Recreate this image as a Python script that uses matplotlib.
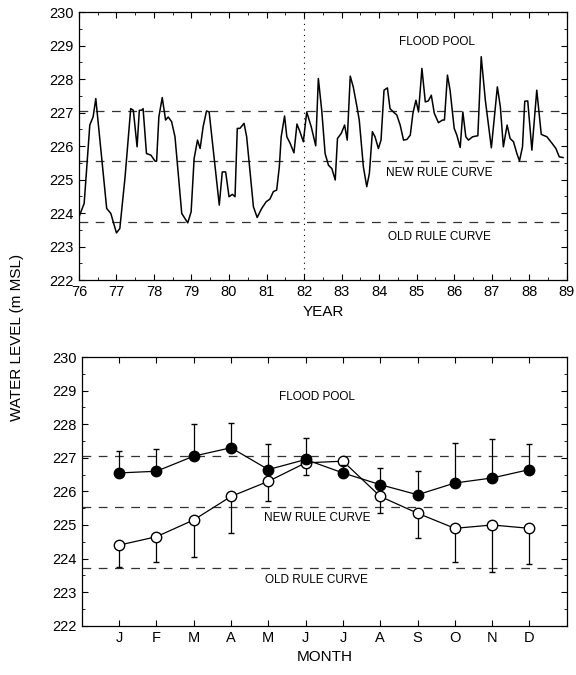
import numpy as np
import matplotlib.pyplot as plt
from matplotlib.ticker import MultipleLocator

# top panel: monthly water level record 1976-1988
year = [76.02, 76.14, 76.29, 76.38, 76.45, 76.56, 76.74, 76.85, 77.0, 77.09,
        77.23, 77.38, 77.45, 77.55, 77.61, 77.67, 77.71, 77.8, 77.92, 78.03,
        78.07, 78.13, 78.22, 78.31, 78.38, 78.47, 78.56, 78.74, 78.9, 78.99,
        79.07, 79.16, 79.23, 79.31, 79.4, 79.47, 79.58, 79.74, 79.82, 79.91,
        80.0, 80.09, 80.16, 80.22, 80.29, 80.4, 80.47, 80.65, 80.75, 80.87,
        80.99, 81.09, 81.18, 81.27, 81.34, 81.39, 81.48, 81.54, 81.63, 81.73,
        81.81, 81.89, 81.98, 82.07, 82.19, 82.31, 82.38, 82.47, 82.56, 82.65,
        82.74, 82.83, 82.89, 82.99, 83.08, 83.15, 83.23, 83.31, 83.41, 83.47,
        83.58, 83.67, 83.74, 83.82, 83.89, 83.98, 84.05, 84.13, 84.22, 84.29,
        84.38, 84.47, 84.56, 84.65, 84.74, 84.83, 84.9, 84.98, 85.05, 85.14,
        85.23, 85.31, 85.39, 85.47, 85.58, 85.69, 85.74, 85.82, 85.89, 86.0,
        86.07, 86.16, 86.23, 86.31, 86.38, 86.49, 86.63, 86.72, 86.83, 86.99,
        87.15, 87.23, 87.31, 87.41, 87.49, 87.58, 87.67, 87.74, 87.82, 87.88,
        87.96, 88.07, 88.2, 88.32, 88.47, 88.61, 88.71, 88.8, 88.9]
level = [223.94, 224.29, 226.63, 226.88, 227.42, 226.18, 224.14, 223.99, 223.41, 223.54,
         225.08, 227.12, 227.07, 225.98, 227.07, 227.07, 227.12, 225.78, 225.73, 225.55,
         225.55, 226.87, 227.45, 226.78, 226.87, 226.73, 226.28, 223.99, 223.71, 224.04,
         225.63, 226.18, 225.93, 226.58, 227.05, 227.02, 225.88, 224.24, 225.23, 225.23,
         224.49, 224.56, 224.49, 226.53, 226.53, 226.68, 226.28, 224.19, 223.87, 224.14,
         224.34, 224.42, 224.64, 224.69, 225.38, 226.28, 226.9, 226.28, 226.08, 225.8,
         226.66, 226.43, 226.13, 227.02, 226.58, 226.01, 228.02, 227.07, 225.78, 225.43,
         225.33, 224.99, 226.23, 226.38, 226.63, 226.18, 228.09, 227.77, 227.17, 226.78,
         225.38, 224.79, 225.19, 226.43, 226.28, 225.93, 226.18, 227.67, 227.74, 227.12,
         227.02, 226.93, 226.63, 226.18, 226.2, 226.33, 226.98, 227.37, 227.02, 228.32,
         227.32, 227.35, 227.52, 226.98, 226.7, 226.78, 226.78, 228.12, 227.67, 226.53,
         226.33, 225.96, 227.02, 226.28, 226.18, 226.28, 226.31, 228.67, 227.37, 225.95,
         227.77, 227.17, 225.98, 226.63, 226.23, 226.13, 225.78, 225.56, 225.98, 227.34,
         227.35, 225.88, 227.67, 226.35, 226.28, 226.08, 225.93, 225.68, 225.66]

# bottom panel: monthly means
months = ["J", "F", "M", "A", "M", "J", "J", "A", "S", "O", "N", "D"]
new_mean = [226.55, 226.6, 227.05, 227.3, 226.65, 226.95, 226.55, 226.2, 225.9, 226.25, 226.4, 226.65]
new_sd = [0.65, 0.65, 0.95, 0.75, 0.75, 0.65, 0.25, 0.5, 0.7, 1.2, 1.15, 0.75]
old_mean = [224.4, 224.65, 225.15, 225.85, 226.3, 226.85, 226.9, 225.85, 225.35, 224.9, 225.0, 224.9]
old_sd = [0.65, 0.75, 1.1, 1.1, 0.6, 0.35, 0.0, 0.5, 0.75, 1.0, 1.4, 1.05]

flood_line = 227.05
new_rule = 225.55
old_rule = 223.73

plt.rcParams['font.family'] = ['Liberation Sans', 'DejaVu Sans']

fig = plt.figure(figsize=(5.76, 6.75), dpi=100)
ax1 = fig.add_axes([0.137, 0.585, 0.847, 0.397])
ax2 = fig.add_axes([0.142, 0.073, 0.842, 0.398])

dash = (0, (7, 6))
for ax in (ax1, ax2):
    for h in (flood_line, new_rule, old_rule):
        ax.axhline(h, color="#333333", lw=0.9, linestyle=dash, zorder=1)
    ax.set_ylim(222, 230)
    ax.yaxis.set_major_locator(MultipleLocator(1))
    ax.yaxis.set_minor_locator(MultipleLocator(0.5))
    ax.tick_params(which="both", direction="in", top=True, right=True, labelsize=10.5)
    ax.tick_params(which="major", length=4)
    ax.tick_params(which="minor", length=2)
    for s in ax.spines.values():
        s.set_linewidth(0.9)

# top
ax1.plot(year, level, color="black", lw=1.1, zorder=3)
ax1.axvline(82, color="black", lw=0.8, linestyle=(0, (1, 4)))
ax1.set_xlim(76, 89)
ax1.xaxis.set_major_locator(MultipleLocator(1))
ax1.xaxis.set_minor_locator(MultipleLocator(0.5))
ax1.set_xlabel("YEAR", fontsize=11)
ax1.text(85.55, 229.1, "FLOOD POOL", ha="center", va="center", fontsize=8.5)
ax1.text(85.6, 225.2, "NEW RULE CURVE", ha="center", va="center", fontsize=8.5)
ax1.text(85.6, 223.3, "OLD RULE CURVE", ha="center", va="center", fontsize=8.5)

# bottom
x = np.arange(1, 13)
ax2.errorbar(x, old_mean, yerr=[old_sd, np.zeros(12)], fmt="-o", color="black",
             mfc="white", mec="black", ms=7.5, lw=0.9, elinewidth=0.9, capsize=2.5, zorder=3)
ax2.errorbar(x, new_mean, yerr=[np.zeros(12), new_sd], fmt="-o", color="black",
             mfc="black", ms=7.5, lw=0.9, elinewidth=0.9, capsize=2.5, zorder=4)
ax2.set_xlim(0, 13)
ax2.set_xticks(x)
ax2.set_xticklabels(months)
ax2.set_xlabel("MONTH", fontsize=11)
ax2.text(6.3, 228.8, "FLOOD POOL", ha="center", va="center", fontsize=8.5)
ax2.text(6.3, 225.2, "NEW RULE CURVE", ha="center", va="center", fontsize=8.5)
ax2.text(6.3, 223.35, "OLD RULE CURVE", ha="center", va="center", fontsize=8.5)

fig.text(0.03, 0.5, "WATER LEVEL (m MSL)", rotation=90, ha="center", va="center", fontsize=11)

fig.savefig("out.png", dpi=100)
